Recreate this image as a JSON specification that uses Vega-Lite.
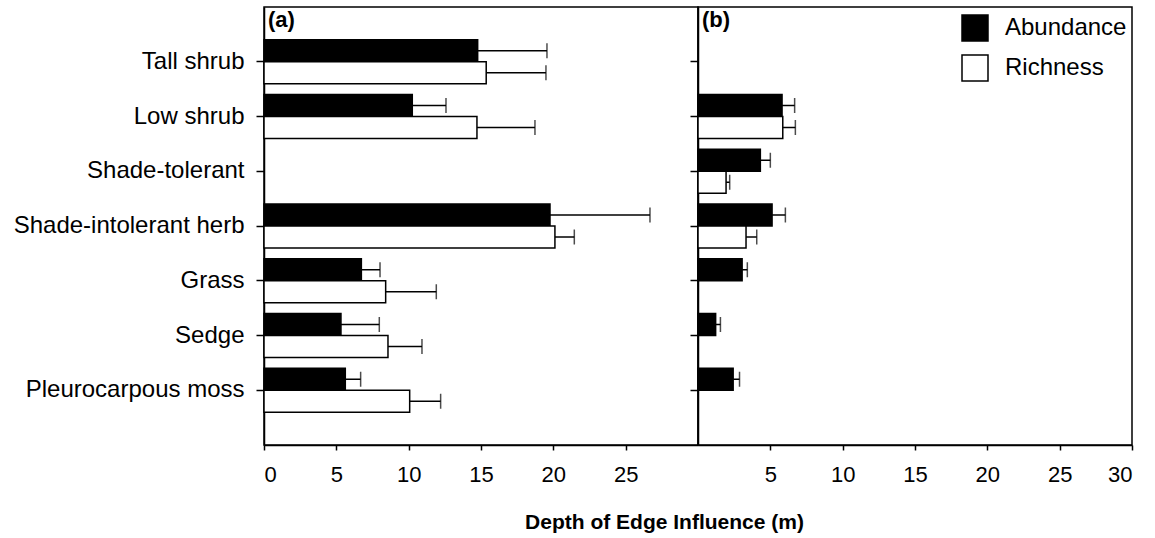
{
  "$schema": "https://vega.github.io/schema/vega-lite/v6.json",
  "padding": {"left": 12, "top": 6, "right": 5, "bottom": 5},
  "bounds": "flush",
  "spacing": 0,
  "config": {
    "font": "Liberation Sans",
    "view": {"stroke": "black", "strokeWidth": 1.5},
    "axis": {"domainColor": "black", "domainWidth": 1.5, "tickColor": "black", "tickWidth": 1.5, "labelColor": "black", "titleColor": "black", "grid": false, "labelFont": "Liberation Sans", "titleFont": "Liberation Sans", "labelLimit": 500},
    "legend": {"labelFont": "Liberation Sans", "labelLimit": 500}
  },
  "data": {"values": [
    {"panel": "a", "group": "Tall shrub", "measure": "Abundance", "dei": 14.77, "upper": 19.56},
    {"panel": "a", "group": "Tall shrub", "measure": "Richness", "dei": 15.36, "upper": 19.49},
    {"panel": "a", "group": "Low shrub", "measure": "Abundance", "dei": 10.25, "upper": 12.58},
    {"panel": "a", "group": "Low shrub", "measure": "Richness", "dei": 14.72, "upper": 18.73},
    {"panel": "a", "group": "Shade-intolerant herb", "measure": "Abundance", "dei": 19.77, "upper": 26.68},
    {"panel": "a", "group": "Shade-intolerant herb", "measure": "Richness", "dei": 20.11, "upper": 21.45},
    {"panel": "a", "group": "Grass", "measure": "Abundance", "dei": 6.73, "upper": 8.02},
    {"panel": "a", "group": "Grass", "measure": "Richness", "dei": 8.41, "upper": 11.91},
    {"panel": "a", "group": "Sedge", "measure": "Abundance", "dei": 5.32, "upper": 7.97},
    {"panel": "a", "group": "Sedge", "measure": "Richness", "dei": 8.57, "upper": 10.92},
    {"panel": "a", "group": "Pleurocarpous moss", "measure": "Abundance", "dei": 5.62, "upper": 6.68},
    {"panel": "a", "group": "Pleurocarpous moss", "measure": "Richness", "dei": 10.07, "upper": 12.21},
    {"panel": "b", "group": "Low shrub", "measure": "Abundance", "dei": 5.81, "upper": 6.68},
    {"panel": "b", "group": "Low shrub", "measure": "Richness", "dei": 5.86, "upper": 6.73},
    {"panel": "b", "group": "Shade-tolerant", "measure": "Abundance", "dei": 4.31, "upper": 5.0},
    {"panel": "b", "group": "Shade-tolerant", "measure": "Richness", "dei": 1.94, "upper": 2.19},
    {"panel": "b", "group": "Shade-intolerant herb", "measure": "Abundance", "dei": 5.12, "upper": 6.04},
    {"panel": "b", "group": "Shade-intolerant herb", "measure": "Richness", "dei": 3.32, "upper": 4.06},
    {"panel": "b", "group": "Grass", "measure": "Abundance", "dei": 3.05, "upper": 3.41},
    {"panel": "b", "group": "Sedge", "measure": "Abundance", "dei": 1.22, "upper": 1.55},
    {"panel": "b", "group": "Pleurocarpous moss", "measure": "Abundance", "dei": 2.43, "upper": 2.87}
  ]},
  "resolve": {"scale": {"fill": "shared", "x": "independent", "y": "independent"}},
  "hconcat": [
    {
      "width": 434,
      "height": 438,
      "title": {"text": "(a)", "anchor": "start", "frame": "group", "offset": -25, "dx": 4, "fontSize": 22, "fontWeight": "bold", "color": "black"},
      "transform": [{"filter": "datum.panel === 'a'"}],
      "encoding": {
        "y": {"field": "group", "type": "nominal", "title": null,
              "scale": {"domain": ["Tall shrub", "Low shrub", "Shade-tolerant", "Shade-intolerant herb", "Grass", "Sedge", "Pleurocarpous moss"], "paddingInner": 0.196, "paddingOuter": 0.598},
              "axis": {"tickSize": 8, "labelPadding": 12, "labelFontSize": 24}},
        "yOffset": {"field": "measure", "type": "nominal", "scale": {"domain": ["Abundance", "Richness"], "paddingInner": 0, "paddingOuter": 0}}
      },
      "layer": [
        {
          "mark": {"type": "rule", "color": "black", "strokeWidth": 1.5},
          "encoding": {
            "x": {"field": "dei", "type": "quantitative", "scale": {"domain": [0, 30], "nice": false},
                  "axis": {"values": [0, 5, 10, 15, 20, 25], "tickSize": 5, "labelPadding": 14, "labelFontSize": 22,
                           "title": "Depth of Edge Influence (m)", "titleFontSize": 21, "titleFontWeight": "bold",
                           "titleX": 400, "titleY": 83, "titleBaseline": "alphabetic", "titleAlign": "center"}},
            "x2": {"field": "upper"}
          }
        },
        {
          "mark": {"type": "tick", "color": "black", "thickness": 1.5, "size": 15, "orient": "vertical"},
          "encoding": {"x": {"field": "upper", "type": "quantitative"}}
        },
        {
          "mark": {"type": "bar", "stroke": "black", "strokeWidth": 1.5},
          "encoding": {
            "x": {"field": "dei", "type": "quantitative"},
            "fill": {"field": "measure", "type": "nominal",
                     "scale": {"domain": ["Abundance", "Richness"], "range": ["black", "white"]},
                     "legend": {"orient": "none", "legendX": 697, "legendY": 7, "title": null, "symbolType": "square", "symbolSize": 676,
                                "symbolStrokeColor": "black", "symbolStrokeWidth": 1.5, "labelFontSize": 24, "labelOffset": 16, "rowPadding": 8, "labelColor": "black"}}
          }
        }
      ]
    },
    {
      "width": 434,
      "height": 438,
      "title": {"text": "(b)", "anchor": "start", "frame": "group", "offset": -25, "dx": 4, "fontSize": 22, "fontWeight": "bold", "color": "black"},
      "transform": [{"filter": "datum.panel === 'b'"}],
      "encoding": {
        "y": {"field": "group", "type": "nominal", "title": null,
              "scale": {"domain": ["Tall shrub", "Low shrub", "Shade-tolerant", "Shade-intolerant herb", "Grass", "Sedge", "Pleurocarpous moss"], "paddingInner": 0.196, "paddingOuter": 0.598},
              "axis": {"tickSize": 8, "labels": false}},
        "yOffset": {"field": "measure", "type": "nominal", "scale": {"domain": ["Abundance", "Richness"], "paddingInner": 0, "paddingOuter": 0}}
      },
      "layer": [
        {
          "mark": {"type": "rule", "color": "black", "strokeWidth": 1.5},
          "encoding": {
            "x": {"field": "dei", "type": "quantitative", "scale": {"domain": [0, 30], "nice": false},
                  "axis": {"values": [5, 10, 15, 20, 25, 30], "tickSize": 5, "labelPadding": 14, "labelFontSize": 22, "title": null}},
            "x2": {"field": "upper"}
          }
        },
        {
          "mark": {"type": "tick", "color": "black", "thickness": 1.5, "size": 15, "orient": "vertical"},
          "encoding": {"x": {"field": "upper", "type": "quantitative"}}
        },
        {
          "mark": {"type": "bar", "stroke": "black", "strokeWidth": 1.5},
          "encoding": {
            "x": {"field": "dei", "type": "quantitative"},
            "fill": {"field": "measure", "type": "nominal",
                     "scale": {"domain": ["Abundance", "Richness"], "range": ["black", "white"]}}
          }
        }
      ]
    }
  ]
}
